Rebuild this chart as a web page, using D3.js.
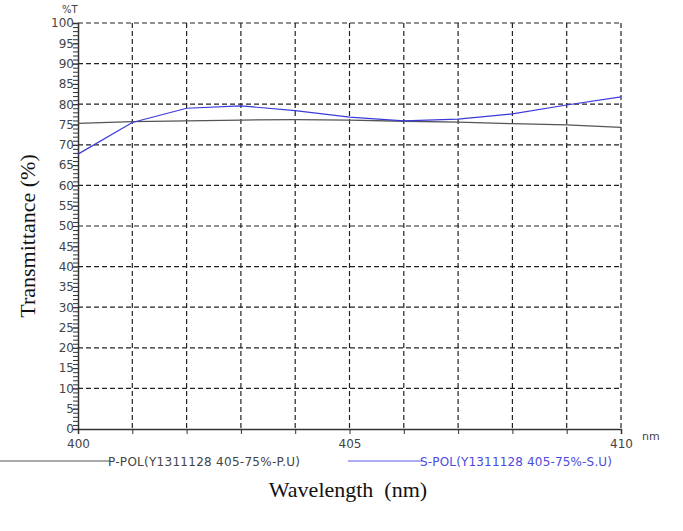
<!DOCTYPE html>
<html>
<head>
<meta charset="utf-8">
<script src="https://cdn.jsdelivr.net/npm/d3@7"></script>
<style>
  body { margin: 0; background: #fff; }
  .tick text { font-family: "DejaVu Sans", sans-serif; }
</style>
</head>
<body>
<div id="chart"></div>
<script>
const wavelengths = [400, 401, 402, 403, 404, 405, 406, 407, 408, 409, 410];
const pPol = [75.3, 75.7, 75.9, 76.1, 76.2, 76.1, 75.8, 75.6, 75.2, 74.9, 74.3];
const sPol = [67.7, 75.5, 79.0, 79.6, 78.4, 76.8, 75.9, 76.3, 77.6, 79.8, 81.8];
const seriesNames = ["P-POL(Y1311128 405-75%-P.U)", "S-POL(Y1311128 405-75%-S.U)"];
const xLabels = [400, 405, 410];
const yLabels = [0, 5, 10, 15, 20, 25, 30, 35, 40, 45, 50, 55, 60, 65, 70, 75, 80, 85, 90, 95, 100];

const width = 683, height = 531;
const margin = { top: 23, left: 78, bottom: 102, right: 62 };
const iwidth = width - margin.left - margin.right;
const iheight = height - margin.top - margin.bottom;

const svg = d3.select("#chart").append("svg")
  .attr("width", width)
  .attr("height", height);

const g = svg.append("g").attr("transform", `translate(${margin.left},${margin.top})`);

const x = d3.scaleLinear().domain([400, 410]).range([0, iwidth]);
const y = d3.scaleLinear().domain([0, 100]).range([iheight, 0]);

// grid
g.selectAll(".hgrid").data(d3.range(10, 101, 10)).enter().append("line")
  .attr("x1", 0).attr("x2", iwidth)
  .attr("y1", d => y(d)).attr("y2", d => y(d))
  .attr("stroke", "#222").attr("stroke-width", 1.2).attr("stroke-dasharray", "5,3");
g.selectAll(".vgrid").data(d3.range(401, 411, 1)).enter().append("line")
  .attr("x1", d => x(d)).attr("x2", d => x(d))
  .attr("y1", 0).attr("y2", iheight)
  .attr("stroke", "#222").attr("stroke-width", 1.2).attr("stroke-dasharray", "5,3");

// y axis
const yAxis = g.append("g")
  .call(d3.axisLeft(y).tickValues(yLabels).tickSize(5).tickFormat(d3.format("d")));
yAxis.select(".domain").attr("stroke", "#333").attr("stroke-width", 1.5);
yAxis.selectAll(".tick line").attr("stroke", "#333");
yAxis.selectAll(".tick text").attr("fill", "#444").attr("font-size", 12).attr("x", -4);
g.append("g")
  .call(d3.axisLeft(y).tickValues(d3.range(0, 101, 1)).tickSize(5).tickFormat(""))
  .call(a => a.select(".domain").remove())
  .selectAll(".tick line").attr("stroke", "#333");

// x axis
const xAxis = g.append("g")
  .attr("transform", `translate(0,${iheight})`)
  .call(d3.axisBottom(x).tickValues(d3.range(400, 411, 1)).tickSize(5)
    .tickFormat(d => xLabels.includes(d) ? d : ""));
xAxis.select(".domain").attr("stroke", "#333").attr("stroke-width", 1.5);
xAxis.selectAll(".tick line").attr("stroke", "#333");
xAxis.selectAll(".tick text").attr("fill", "#444").attr("font-size", 12).attr("dy", "0.9em");

svg.append("text").attr("x", 62).attr("y", 13)
  .attr("font-family", "DejaVu Sans, sans-serif").attr("font-size", 10).attr("fill", "#444")
  .text("%T");
svg.append("text").attr("x", 642).attr("y", 440)
  .attr("font-family", "DejaVu Sans, sans-serif").attr("font-size", 11).attr("fill", "#444")
  .text("nm");

// lines
const line = d3.line()
  .x((d, i) => x(wavelengths[i]))
  .y(d => y(d));
g.append("path").datum(pPol).attr("d", line)
  .attr("fill", "none").attr("stroke", "#555").attr("stroke-width", 1.3);
g.append("path").datum(sPol).attr("d", line)
  .attr("fill", "none").attr("stroke", "#3a3ad8").attr("stroke-width", 1.2);

// legend
const legendY = 461;
const legend = [
  { name: seriesNames[0], color: "#555", text: "#444", x1: 0, x2: 110, tx: 108 },
  { name: seriesNames[1], color: "#5a5ae6", text: "#4a4ae0", x1: 348, x2: 422, tx: 420 }
];
legend.forEach(l => {
  svg.append("line").attr("x1", l.x1).attr("x2", l.x2)
    .attr("y1", legendY).attr("y2", legendY)
    .attr("stroke", l.color).attr("stroke-width", 1);
  svg.append("text").attr("x", l.tx).attr("y", legendY + 5)
    .attr("font-family", "DejaVu Sans, sans-serif").attr("font-size", 12)
    .attr("textLength", 192).attr("fill", l.text).text(l.name);
});

// axis titles
svg.append("text")
  .attr("x", 348).attr("y", 497)
  .attr("text-anchor", "middle")
  .attr("font-family", "Liberation Serif, Times New Roman, serif").attr("font-size", 22)
  .attr("fill", "#111")
  .text("Wavelength\u00a0\u00a0(nm)");
svg.append("text")
  .attr("transform", "translate(35,236) rotate(-90)")
  .attr("text-anchor", "middle")
  .attr("font-family", "Liberation Serif, Times New Roman, serif").attr("font-size", 22)
  .attr("fill", "#111")
  .text("Transmittance\u00a0(%)");
</script>
</body>
</html>
